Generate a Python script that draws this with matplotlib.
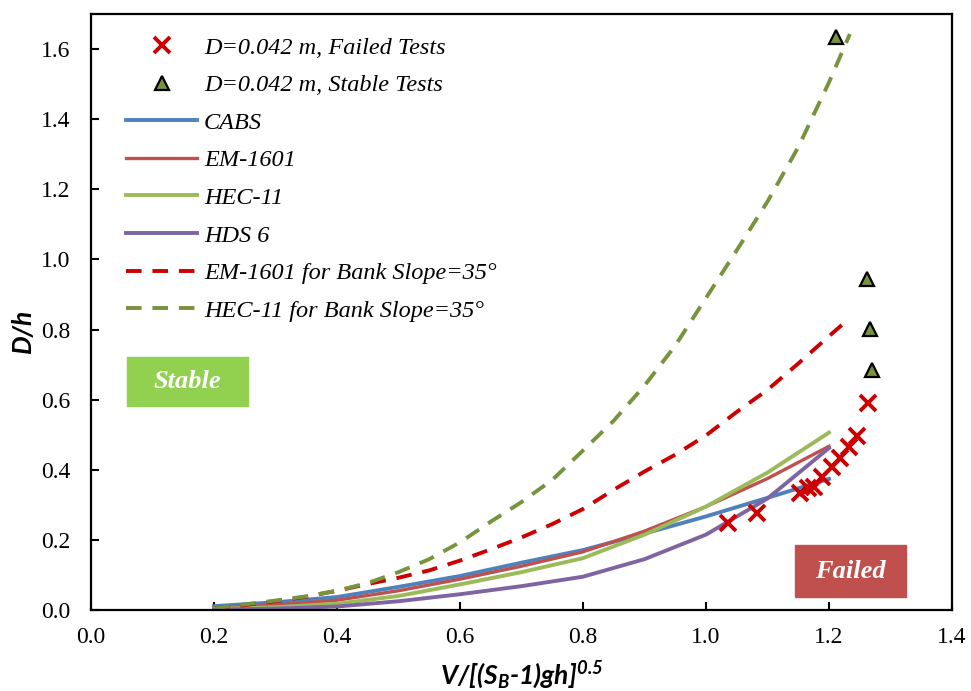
import numpy as np
import matplotlib
matplotlib.use("Agg")
import matplotlib.pyplot as plt
from matplotlib.patches import Rectangle

# test data (D = 0.042 m)
failed_x = [1.036, 1.083, 1.153, 1.166, 1.175, 1.188, 1.205, 1.218, 1.232, 1.245, 1.263]
failed_y = [0.248, 0.276, 0.333, 0.347, 0.352, 0.380, 0.409, 0.433, 0.466, 0.495, 0.591]
stable_x = [1.211, 1.262, 1.267, 1.270]
stable_y = [1.634, 0.943, 0.801, 0.684]

# design curves
xc = [0.2, 0.3, 0.4, 0.5, 0.6, 0.7, 0.8, 0.9, 1.0, 1.1, 1.2]
cabs = [0.011, 0.022, 0.037, 0.066, 0.097, 0.135, 0.171, 0.218, 0.267, 0.320, 0.374]
em1601 = [0.005, 0.014, 0.028, 0.055, 0.088, 0.125, 0.166, 0.225, 0.295, 0.375, 0.467]
hec11 = [0.003, 0.008, 0.018, 0.040, 0.073, 0.108, 0.148, 0.215, 0.295, 0.392, 0.506]
hds6 = [0.001, 0.004, 0.010, 0.025, 0.045, 0.068, 0.095, 0.145, 0.215, 0.318, 0.462]

# curves for 35 degree bank slope
xd = [0.2, 0.25, 0.3, 0.35, 0.4, 0.45, 0.5, 0.55, 0.6, 0.65, 0.7,
      0.75, 0.8, 0.85, 0.9, 0.95, 1.0, 1.05, 1.1, 1.15, 1.2, 1.234]
em1601_35 = [0.005, 0.014, 0.025, 0.038, 0.055, 0.074, 0.092, 0.113, 0.141, 0.173, 0.207,
             0.245, 0.288, 0.343, 0.395, 0.443, 0.498, 0.565, 0.628, 0.703, 0.781, 0.833]
hec11_35 = [0.005, 0.016, 0.027, 0.039, 0.055, 0.077, 0.108, 0.145, 0.193, 0.252, 0.308,
            0.371, 0.455, 0.540, 0.640, 0.754, 0.890, 1.026, 1.165, 1.320, 1.505, 1.643]

plt.rcParams["font.family"] = ["Liberation Serif", "DejaVu Serif"]
plt.rcParams["mathtext.fontset"] = "custom"
plt.rcParams["mathtext.rm"] = "Lato:bold:italic"
plt.rcParams["mathtext.it"] = "Lato:bold:italic"
plt.rcParams["mathtext.bf"] = "Lato:bold:italic"

fig = plt.figure(figsize=(9.71, 6.91), dpi=100)
ax = fig.add_axes([0.0937, 0.1172, 0.8867, 0.8625])

ax.plot(failed_x, failed_y, linestyle="none", marker="x", color="#CC0000",
        markersize=11, markeredgewidth=2.8, label="D=0.042 m, Failed Tests", zorder=5)
ax.plot(stable_x, stable_y, linestyle="none", marker="^", markerfacecolor="#77933C",
        markeredgecolor="black", markersize=10, markeredgewidth=1.6,
        label="D=0.042 m, Stable Tests", zorder=5)

ax.plot(xc, cabs, color="#4F81BD", lw=2.8, label="CABS")
ax.plot(xc, em1601, color="#C0504D", lw=2.4, label="EM-1601")
ax.plot(xc, hec11, color="#9BBB59", lw=2.8, label="HEC-11")
ax.plot(xc, hds6, color="#8064A2", lw=2.8, label="HDS 6")
ax.plot(xd, em1601_35, color="#CC0000", lw=2.8, dashes=(4.0, 2.8),
        label="EM-1601 for Bank Slope=35°")
ax.plot(xd, hec11_35, color="#77933C", lw=2.8, dashes=(4.0, 2.8),
        label="HEC-11 for Bank Slope=35°")

ax.set_xlim(0, 1.4)
ax.set_ylim(0, 1.7)
ax.set_xticks(np.arange(0, 1.41, 0.2))
ax.set_yticks(np.arange(0, 1.61, 0.2))
ax.xaxis.set_major_formatter(matplotlib.ticker.FormatStrFormatter("%.1f"))
ax.yaxis.set_major_formatter(matplotlib.ticker.FormatStrFormatter("%.1f"))
ax.tick_params(direction="in", length=6, width=1.5, labelsize=17,
               top=False, right=False)
ax.tick_params(axis="x", pad=12)
ax.tick_params(axis="y", pad=15)
for s in ax.spines.values():
    s.set_linewidth(1.6)

lab_font = dict(family=["Lato", "DejaVu Sans"], weight="bold", style="italic", size=19)
ax.set_xlabel(r"V/[(S$_B$-1)gh]$^{0.5}$", labelpad=8, **lab_font)
ax.set_ylabel("D/h", labelpad=4, y=0.468, **lab_font)

ax.legend(loc="upper left", bbox_to_anchor=(0.041, 0.962), frameon=False,
          borderaxespad=0, borderpad=0, handlelength=2.9, handletextpad=0.3,
          labelspacing=0.64, prop=dict(style="italic", size=17.5))

# region labels
ax.add_patch(Rectangle((0.058, 0.582), 0.198, 0.14, color="#92D050", zorder=1))
ax.text(0.157, 0.652, "Stable", color="white", ha="center", va="center",
        fontsize=19, fontweight="bold", style="italic", zorder=2)
ax.add_patch(Rectangle((1.145, 0.037), 0.18, 0.148, color="#C0504D", zorder=1))
ax.text(1.235, 0.111, "Failed", color="white", ha="center", va="center",
        fontsize=19, fontweight="bold", style="italic", zorder=2)

fig.savefig("out.png", dpi=100)
